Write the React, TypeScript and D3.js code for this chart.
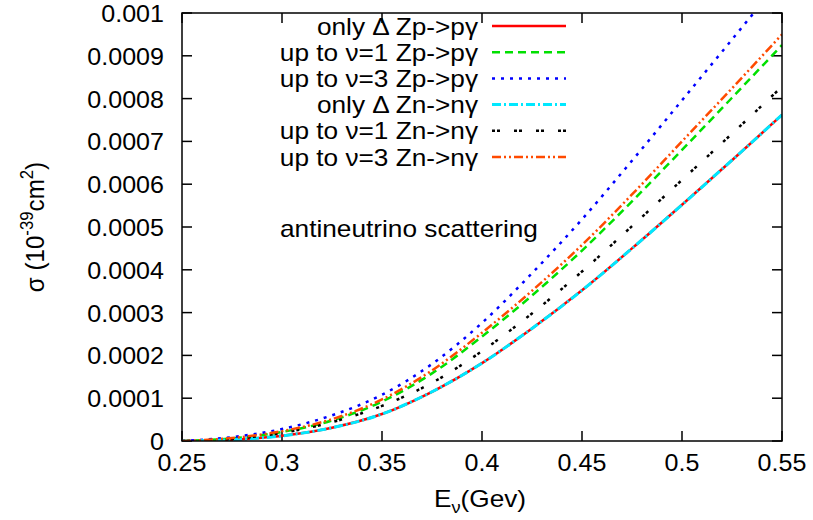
import React from "react";
import * as d3 from "d3";

const energies = [0.25, 0.275, 0.3, 0.325, 0.35, 0.375, 0.4, 0.425, 0.45, 0.475, 0.5, 0.525, 0.55];
const onlyDeltaP = [0, 0.000003, 0.000012, 0.000031, 0.000063, 0.000115, 0.000182, 0.000263, 0.000352, 0.00045, 0.000552, 0.000656, 0.000762];
const upTo1P = [0, 0.000006, 0.000021, 0.000048, 0.000092, 0.000158, 0.000244, 0.00034, 0.000445, 0.00056, 0.00068, 0.000802, 0.000925];
const upTo3P = [0, 0.000009, 0.000028, 0.00006, 0.000108, 0.00018, 0.000276, 0.000392, 0.000518, 0.000655, 0.000796, 0.000938, 0.001081];
const onlyDeltaN = [0, 0.000003, 0.000012, 0.000031, 0.000063, 0.000115, 0.000182, 0.000263, 0.000352, 0.00045, 0.000552, 0.000656, 0.000762];
const upTo1N = [0, 0.000005, 0.000019, 0.000044, 0.000082, 0.000136, 0.00021, 0.000298, 0.000396, 0.000502, 0.00061, 0.000718, 0.000828];
const upTo3N = [0, 0.000007, 0.000023, 0.000051, 0.000097, 0.000165, 0.000253, 0.000351, 0.000458, 0.000576, 0.0007, 0.000824, 0.00095];

const xTicks = [0.25, 0.3, 0.35, 0.4, 0.45, 0.5, 0.55];
const xTickLabels = ["0.25", "0.3", "0.35", "0.4", "0.45", "0.5", "0.55"];
const yTicks = [0, 0.0001, 0.0002, 0.0003, 0.0004, 0.0005, 0.0006, 0.0007, 0.0008, 0.0009, 0.001];
const yTickLabels = ["0", "0.0001", "0.0002", "0.0003", "0.0004", "0.0005", "0.0006", "0.0007", "0.0008", "0.0009", "0.001"];

const seriesLabels = ["only \u0394 Zp->p\u03b3", "up to \u03bd=1 Zp->p\u03b3", "up to \u03bd=3 Zp->p\u03b3", "only \u0394 Zn->n\u03b3", "up to \u03bd=1 Zn->n\u03b3", "up to \u03bd=3 Zn->n\u03b3"];
const seriesValues = [onlyDeltaP, upTo1P, upTo3P, onlyDeltaN, upTo1N, upTo3N];
const seriesColors = ["#ff0000", "#00e000", "#0000ff", "#00e8ff", "#000000", "#ff4a00"];
const seriesDash = ["", "8,5", "3,6", "9,3,2,3", "3,2,3,14", "9,3,2,3,2,3"];

const W = 813, H = 520;
const L = 182, R = 782, T = 13, B = 441;
const FONT = "'Liberation Sans', Arial, Helvetica, sans-serif";
const FS = 23;
const SX_NUM = 1.09;
const SX_TXT = 1.14;

function Txt(props: { x: number; y: number; sx: number; anchor?: string; children: React.ReactNode; size?: number }) {
  return (
    <g transform={`translate(${props.x},${props.y}) scale(${props.sx},1)`}>
      <text x={0} y={0} fontSize={props.size || FS} textAnchor={props.anchor || "start"} fill="#000">
        {props.children}
      </text>
    </g>
  );
}

export default function App() {
  const x = d3.scaleLinear().domain([0.25, 0.55]).range([L, R]);
  const y = d3.scaleLinear().domain([0, 0.001]).range([B, T]);
  const line = d3
    .line<[number, number]>()
    .x((d) => x(d[0]))
    .y((d) => y(d[1]))
    .curve(d3.curveMonotoneX);

  const legendY0 = 26, legendDy = 26.2, legendTextX = 478, lx1 = 492, lx2 = 566;

  return (
    <svg width={W} height={H} style={{ position: "absolute", left: 0, top: 0, background: "#fff" }} fontFamily={FONT}>
      <defs>
        <clipPath id="plotclip">
          <rect x={L} y={T} width={R - L} height={B - T} />
        </clipPath>
      </defs>
      <rect x={0} y={0} width={W} height={H} fill="#fff" />
      {xTicks.map((t, i) => (
        <g key={"xt" + i}>
          <line x1={x(t)} x2={x(t)} y1={B} y2={B - 10} stroke="#000" strokeWidth={1.5} />
          <line x1={x(t)} x2={x(t)} y1={T} y2={T + 10} stroke="#000" strokeWidth={1.5} />
          <Txt x={x(t)} y={B + 30} sx={SX_NUM} anchor="middle">
            {xTickLabels[i]}
          </Txt>
        </g>
      ))}
      {yTicks.map((t, i) => (
        <g key={"yt" + i}>
          <line x1={L} x2={L + 10} y1={y(t)} y2={y(t)} stroke="#000" strokeWidth={1.5} />
          <line x1={R} x2={R - 10} y1={y(t)} y2={y(t)} stroke="#000" strokeWidth={1.5} />
          <Txt x={164} y={y(t) + 9} sx={SX_NUM} anchor="end">
            {yTickLabels[i]}
          </Txt>
        </g>
      ))}
      <g clipPath="url(#plotclip)">
        {seriesValues.map((vals, i) => (
          <path
            key={"s" + i}
            d={line(energies.map((e, j) => [e, vals[j]] as [number, number])) || ""}
            fill="none"
            stroke={seriesColors[i]}
            strokeWidth={i === 3 ? 3 : 2.5}
            strokeDasharray={seriesDash[i] || undefined}
          />
        ))}
      </g>
      {seriesLabels.map((lab, i) => (
        <g key={"lg" + i}>
          <Txt x={legendTextX} y={legendY0 + i * legendDy + 8.5} sx={SX_TXT} anchor="end">
            {lab}
          </Txt>
          <line
            x1={lx1}
            x2={lx2}
            y1={legendY0 + i * legendDy}
            y2={legendY0 + i * legendDy}
            stroke={seriesColors[i]}
            strokeWidth={i === 3 ? 3 : 2.5}
            strokeDasharray={seriesDash[i] || undefined}
          />
        </g>
      ))}
      <Txt x={280} y={237} sx={SX_TXT}>
        antineutrino scattering
      </Txt>
      <rect x={L} y={T} width={R - L} height={B - T} fill="none" stroke="#000" strokeWidth={1.5} />
      <Txt x={480} y={507} sx={SX_TXT} anchor="middle">
        E<tspan dy={6} fontSize={16}>{"\u03bd"}</tspan>
        <tspan dy={-6}>(Gev)</tspan>
      </Txt>
      <g transform={`translate(44,${(T + B) / 2}) rotate(-90) scale(1.05,1.1)`}>
        <text x={0} y={0} fontSize={FS} textAnchor="middle" fill="#000">
          {"\u03c3 (10"}
          <tspan dy={-10} fontSize={16}>-39</tspan>
          <tspan dy={10}>cm</tspan>
          <tspan dy={-10} fontSize={16}>2</tspan>
          <tspan dy={10}>)</tspan>
        </text>
      </g>
    </svg>
  );
}
